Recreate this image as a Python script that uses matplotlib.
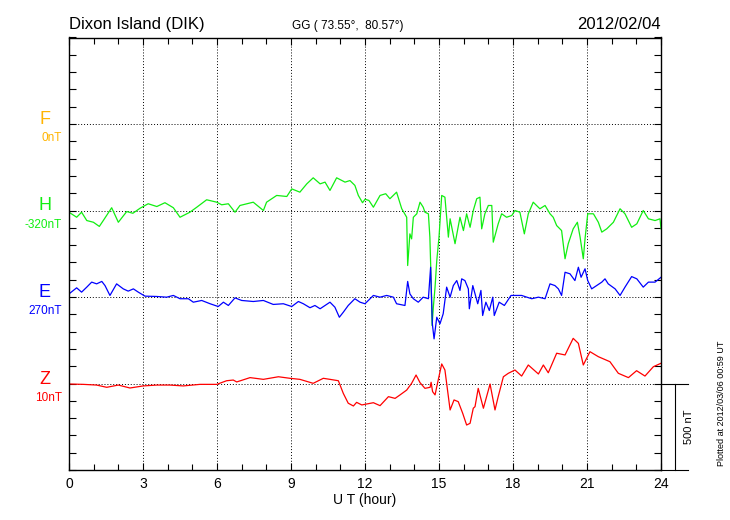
import matplotlib.pyplot as plt
import matplotlib.transforms as mtransforms

plt.rcParams['font.family'] = ['Liberation Sans', 'DejaVu Sans']

station = "Dixon Island (DIK)"
coords = "GG ( 73.55°,  80.57°)"
date = "2012/02/04"
plotted = "Plotted at 2012/03/06 00:59 UT"
x_label = "U T (hour)"

components = ["F", "H", "E", "Z"]
base_labels = ["0nT", "-320nT", "270nT", "10nT"]
colors = ["#FFB400", "#11EE11", "#0000FF", "#FF0000"]
scale_nT = 500

# H component, deviation from base (nT)
h_time = [0.0, 0.31, 0.51, 0.72, 0.99, 1.23, 1.39, 1.73, 2.0, 2.34,
          2.59, 2.88, 3.21, 3.56, 3.89, 4.23, 4.5, 4.9, 5.18, 5.58,
          5.99, 6.19, 6.46, 6.73, 6.93, 7.47, 7.88, 8.01, 8.42, 8.83,
          9.03, 9.36, 9.64, 9.9, 10.18, 10.38, 10.58, 10.85, 11.19, 11.39,
          11.59, 11.73, 11.9, 12.0, 12.16, 12.34, 12.61, 12.84, 13.01, 13.28,
          13.49, 13.69, 13.73, 13.82, 13.89, 13.96, 14.1, 14.23, 14.36, 14.43,
          14.57, 14.63, 14.68, 14.72, 14.77, 14.84, 14.91, 15.0, 15.11, 15.24,
          15.38, 15.45, 15.65, 15.85, 15.99, 16.12, 16.26, 16.39, 16.53, 16.66,
          16.73, 16.86, 17.0, 17.14, 17.2, 17.4, 17.54, 17.74, 17.95, 18.08,
          18.28, 18.46, 18.62, 18.82, 19.09, 19.3, 19.5, 19.63, 19.77, 19.97,
          20.11, 20.24, 20.44, 20.61, 20.72, 20.85, 20.92, 21.03, 21.26, 21.46,
          21.6, 21.8, 22.07, 22.34, 22.54, 22.81, 23.02, 23.28, 23.49, 23.76,
          23.96, 24.0]
h_dev = [-10, -39, -10, -58, -68, -92, -58, 16, -68, -6,
         -16, 13, 39, 23, 45, 16, -39, -10, 19, 62,
         48, 33, 39, -10, 29, 48, 0, 48, 87, 81,
         125, 106, 154, 189, 154, 164, 116, 189, 164, 173,
         145, 87, 45, 65, 58, 19, 87, 97, 68, 106,
         10, -39, -318, -135, -164, -39, -19, 48, 19, -10,
         -19, -154, -400, -665, -560, -443, -289, -154, 87, 77,
         -154, -48, -192, -39, -116, -19, -97, 0, 68, 77,
         -106, -19, 29, 29, -183, -77, -19, -39, -29, 0,
         -10, -135, -19, 48, 10, 29, -19, -39, -87, -116,
         -279, -192, -106, -68, -154, -279, -164, -19, -19, -68,
         -125, -106, -68, 10, -19, -97, -77, 0, -48, -58,
         -48, -106]

# E component
e_time = [0.0, 0.31, 0.51, 0.72, 0.92, 1.12, 1.33, 1.46, 1.66, 1.93,
          2.2, 2.4, 2.61, 2.81, 3.08, 3.56, 3.96, 4.23, 4.5, 4.84,
          5.04, 5.38, 5.72, 6.05, 6.26, 6.46, 6.73, 7.0, 7.47, 7.88,
          8.28, 8.69, 9.03, 9.3, 9.5, 9.77, 9.97, 10.18, 10.38, 10.58,
          10.78, 10.96, 11.12, 11.32, 11.59, 11.8, 12.0, 12.34, 12.61, 12.88,
          13.15, 13.28, 13.62, 13.73, 13.82, 13.96, 14.16, 14.36, 14.57, 14.66,
          14.73, 14.8, 14.91, 15.04, 15.17, 15.31, 15.45, 15.58, 15.72, 15.85,
          15.92, 16.05, 16.19, 16.23, 16.37, 16.57, 16.7, 16.77, 16.9, 17.04,
          17.18, 17.24, 17.44, 17.65, 17.92, 18.15, 18.35, 18.56, 18.76, 19.03,
          19.3, 19.5, 19.7, 19.84, 19.97, 20.11, 20.31, 20.51, 20.65, 20.76,
          20.92, 21.03, 21.19, 21.39, 21.6, 21.73, 21.86, 22.14, 22.34, 22.54,
          22.81, 23.02, 23.28, 23.49, 23.76, 24.0]
e_dev = [18, 53, 28, 57, 86, 76, 90, 66, 9, 76,
         47, 34, 47, 28, 5, 3, -1, 9, -10, -10,
         -30, -20, -39, -55, -30, -49, -5, -20, -26, -20,
         -43, -39, -55, -26, -39, -62, -49, -68, -49, -30,
         -59, -117, -88, -49, -10, -30, -39, 9, -1, 9,
         -1, -39, -49, 90, 18, -10, -30, -1, -10, 172,
         -155, -242, -117, -155, -97, 57, -1, 66, 95, 38,
         105, 95, 47, -68, 66, -39, 38, -107, -30, -78,
         -1, -107, -30, -49, 9, 9, 9, -1, -10, -1,
         -10, 76, 66, 47, 9, 143, 134, 95, 172, 114,
         163, 95, 47, 66, 86, 105, 76, 47, 9, 57,
         118, 105, 57, 86, 86, 114]

# Z component
z_time = [0.0, 0.58, 1.12, 1.53, 2.0, 2.47, 3.01, 3.56, 4.09, 4.63,
          5.31, 5.99, 6.39, 6.66, 6.8, 7.34, 7.88, 8.49, 8.96, 9.36,
          9.9, 10.31, 10.58, 10.92, 11.12, 11.32, 11.53, 11.66, 11.87, 12.34,
          12.61, 12.95, 13.22, 13.42, 13.69, 13.89, 14.07, 14.23, 14.43, 14.64,
          14.68, 14.74, 14.84, 14.91, 15.11, 15.24, 15.38, 15.45, 15.61, 15.78,
          15.96, 16.12, 16.26, 16.39, 16.46, 16.59, 16.8, 17.07, 17.27, 17.4,
          17.61, 17.81, 18.08, 18.35, 18.62, 19.03, 19.23, 19.43, 19.77, 20.11,
          20.44, 20.65, 20.85, 21.12, 21.46, 21.93, 22.27, 22.68, 23.01, 23.35,
          23.69, 24.0]
z_dev = [-3, -5, -9, -22, -9, -26, -14, -9, -9, -14,
         -5, -5, 16, 20, 9, 34, 24, 39, 30, 24,
         1, 30, 24, 16, -57, -114, -130, -109, -124, -111,
         -128, -76, -86, -66, -38, 1, 49, 5, -28, -22,
         7, -47, -66, -18, 113, 78, -76, -153, -95, -105,
         -172, -240, -230, -143, -134, -28, -143, -3, -153, -76,
         39, 59, 78, 43, 107, 55, 107, 62, 175, 165,
         261, 232, 107, 184, 155, 126, 59, 34, 74, 43,
         97, 117]

# each trace sits on its own 500 nT band: Z lowest, F highest
levels = [2000, 1500, 1000, 500]
traces = {"H": (h_time, h_dev), "E": (e_time, e_dev), "Z": (z_time, z_dev)}

fig = plt.figure(figsize=(7.3, 5.2), dpi=100)
ax = fig.add_axes([69 / 730, 50 / 520, 592 / 730, 432.5 / 520])

for comp, level, col in zip(components, levels, colors):
    if comp in traces:
        t, d = traces[comp]
        ax.plot(t, [level + v for v in d], color=col, lw=0.9)

ax.set_xlim(0, 24)
ax.set_ylim(0, 2500)
ax.set_xticks(range(0, 25, 3))
ax.set_xticks(range(0, 25), minor=True)
ax.set_yticks(range(0, 2501, 500))
ax.set_yticks(range(0, 2501, 100), minor=True)
ax.tick_params(which='both', direction='in', top=True, right=True,
               length=5, width=0.8)
ax.tick_params(axis='x', which='minor', length=4)
ax.tick_params(axis='y', labelleft=False)
ax.tick_params(axis='x', labelsize=10, pad=5)
ax.grid(which='major', color='k', linestyle=(0, (1, 2)), linewidth=0.7)
for s in ax.spines.values():
    s.set_linewidth(1.0)
ax.set_xlabel(x_label, fontsize=10, labelpad=1.5)

trans = mtransforms.blended_transform_factory(ax.transAxes, ax.transData)
for comp, lab, level, col in zip(components, base_labels, levels, colors):
    ax.text(-0.041, level, comp, color=col, fontsize=13, ha='center',
            va='baseline', transform=trans)
    ax.text(-0.0118, level - 100, lab, color=col, fontsize=8.5, ha='right',
            va='baseline', transform=trans)

# 500 nT scale bar at the right of the Z band
ax.plot([1.0, 1.0456], [levels[3], levels[3]], color='k', lw=0.8,
        transform=trans, clip_on=False)
ax.plot([1.0, 1.0456], [levels[3] - scale_nT] * 2, color='k', lw=0.8,
        transform=trans, clip_on=False)
ax.plot([1.0237, 1.0237], [levels[3] - scale_nT, levels[3]], color='k',
        lw=0.8, transform=trans, clip_on=False)
ax.text(1.048, levels[3] - scale_nT / 2, f"{scale_nT} nT", rotation=90,
        fontsize=8, ha='center', va='center', transform=trans)

ax.text(0.0, 1.0185, station, fontsize=12, ha='left', va='baseline',
        transform=ax.transAxes)
ax.text(0.376, 1.0185, coords, fontsize=8.5, ha='left', va='baseline',
        transform=ax.transAxes)
ax.text(1.0, 1.0185, date, fontsize=12, ha='right', va='baseline',
        transform=ax.transAxes)
fig.text(0.989, 0.225, plotted, rotation=90, fontsize=6.5, ha='center',
         va='center')

fig.savefig("out.png", dpi=100)
